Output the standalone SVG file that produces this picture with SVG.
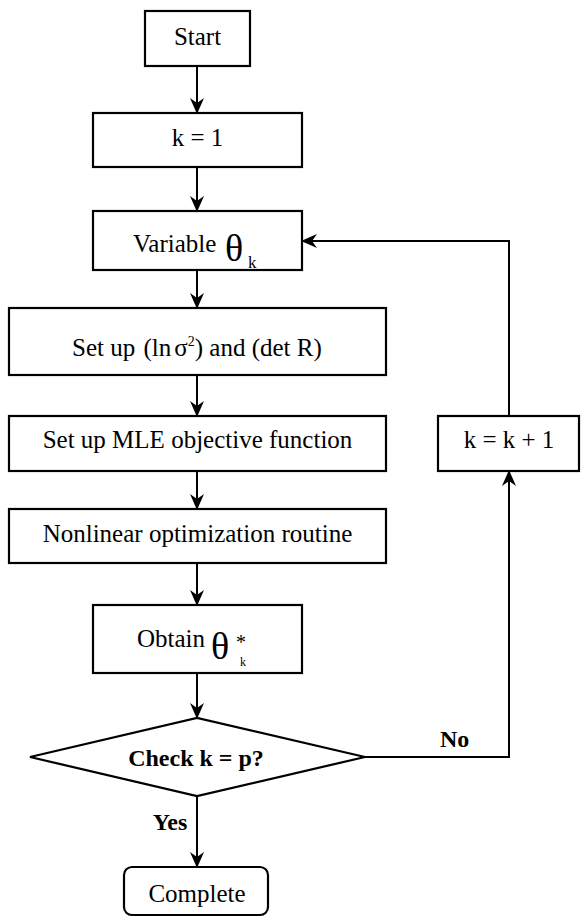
<svg xmlns="http://www.w3.org/2000/svg" width="581" height="917" viewBox="0 0 581 917">
<defs>
<marker id="ah" markerUnits="userSpaceOnUse" markerWidth="16" markerHeight="16" viewBox="0 0 16 16" refX="15" refY="8" orient="auto">
<path d="M0,1 L16,8 L0,15 L5,8 z" fill="#000"/>
</marker>
<style>
.box{fill:#fff;stroke:#000;stroke-width:2.2}
.t{font-family:"Liberation Serif","Times New Roman",serif;font-size:25px;fill:#000}
.m{text-anchor:middle}
.b{font-weight:bold;font-size:24px}
.c{fill:none;stroke:#000;stroke-width:2}
.th{font-size:38px}
</style>
</defs>
<rect width="581" height="917" fill="#fff"/>
<g id="connectors">
<line class="c" x1="197" y1="66" x2="197" y2="113" marker-end="url(#ah)"/>
<line class="c" x1="197" y1="167" x2="197" y2="211" marker-end="url(#ah)"/>
<line class="c" x1="197" y1="270" x2="197" y2="308" marker-end="url(#ah)"/>
<line class="c" x1="197" y1="375" x2="197" y2="416" marker-end="url(#ah)"/>
<line class="c" x1="197" y1="471" x2="197" y2="509" marker-end="url(#ah)"/>
<line class="c" x1="197" y1="563" x2="197" y2="605" marker-end="url(#ah)"/>
<line class="c" x1="197" y1="673" x2="197" y2="718" marker-end="url(#ah)"/>
<line class="c" x1="197" y1="796" x2="197" y2="867" marker-end="url(#ah)"/>
<polyline class="c" points="365,757 509,757 509,471" marker-end="url(#ah)"/>
<polyline class="c" points="509,416 509,241 302,241" marker-end="url(#ah)"/>
<text class="t b" x="440" y="747">No</text>
<text class="t b m" x="170" y="830">Yes</text>
</g>
<g id="start">
<rect class="box" x="145" y="11" width="105" height="55"/>
<text class="t m" x="197.5" y="45">Start</text>
</g>
<g id="k1">
<rect class="box" x="93" y="113" width="209" height="54"/>
<text class="t m" x="197.5" y="146">k = 1</text>
</g>
<g id="variable">
<rect class="box" x="93" y="211" width="209" height="59"/>
<text class="t" x="133" y="252">Variable</text>
<text class="t th" x="225" y="261">θ</text>
<text class="t" x="248" y="268" style="font-size:17px">k</text>
</g>
<g id="setup">
<rect class="box" x="9" y="308" width="377" height="67"/>
<text class="t" x="72" y="356">Set up <tspan dx="2">(</tspan>ln<tspan dx="3">σ</tspan><tspan dy="-10" style="font-size:14px">2</tspan><tspan dy="10">)</tspan> and (det R)</text>
</g>
<g id="mle">
<rect class="box" x="9" y="416" width="377" height="55"/>
<text class="t m" x="197.5" y="448">Set up MLE objective function</text>
</g>
<g id="nonlinear">
<rect class="box" x="9" y="509" width="377" height="54"/>
<text class="t m" x="197.5" y="542">Nonlinear optimization routine</text>
</g>
<g id="obtain">
<rect class="box" x="93" y="605" width="209" height="68"/>
<text class="t" x="137" y="647">Obtain</text>
<text class="t th" x="211" y="659">θ</text>
<text class="t" x="236" y="649" style="font-size:20px">*</text>
<text class="t" x="240" y="666" style="font-size:12px">k</text>
</g>
<g id="check">
<polygon class="box" points="30,757 197,718 365,757 197,796"/>
<text class="t b m" x="196" y="766">Check k = p?</text>
</g>
<g id="kinc">
<rect class="box" x="438" y="416" width="141" height="55"/>
<text class="t m" x="509" y="448">k = k + 1</text>
</g>
<g id="complete">
<rect class="box" x="124" y="867" width="144" height="48" rx="8"/>
<text class="t m" x="197" y="902">Complete</text>
</g>
</svg>
